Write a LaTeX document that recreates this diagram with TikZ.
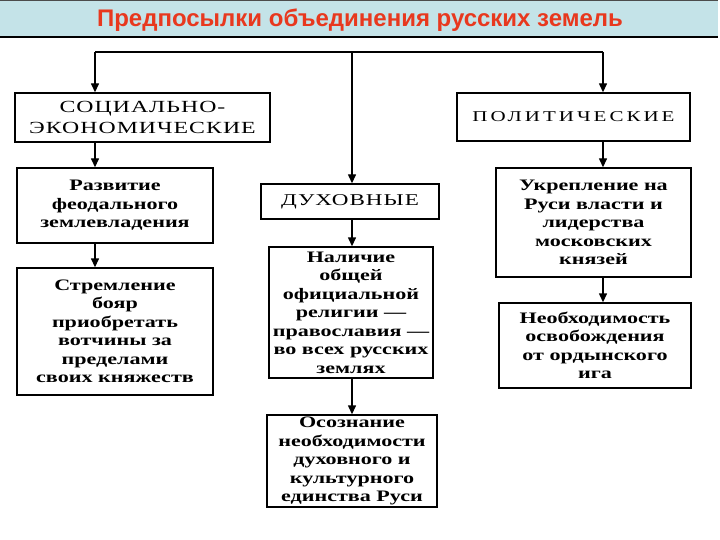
\documentclass[tikz,border=0pt]{standalone}
\usepackage{fontspec}
\setmainfont{Liberation Serif}
\newfontfamily\titlefont{Liberation Sans}
\newfontfamily\bodyf[FakeStretch=1.38]{Liberation Serif}
\newfontfamily\headf[FakeStretch=1.4,LetterSpace=6]{Liberation Serif}
\newfontfamily\headwf[FakeStretch=1.4,LetterSpace=20]{Liberation Serif}
\usetikzlibrary{arrows.meta}
\definecolor{titlebg}{HTML}{C4E3E8}
\definecolor{titlered}{HTML}{E8381E}
\begin{document}
\begin{tikzpicture}[x=1pt,y=-1pt,
  box/.style={draw=black, line width=1.4pt, align=center, inner sep=0pt,
    font=\bodyf\bfseries\fontsize{16}{18.5}\selectfont},
  head/.style={box, font=\headf\fontsize{17}{21}\selectfont},
  arr/.style={line width=1.4pt, -{Triangle[length=9pt,width=8pt]}}]
\useasboundingbox (0,0) rectangle (720,540);
% title bar
\fill[titlebg] (0,0) rectangle (718,37);
\draw[black!70, line width=0.6pt] (0,0.5) -- (718,0.5);
\draw[black, line width=1.4pt] (0,37) -- (718,37);
\node (title) at (360,20) {\titlefont\bfseries\fontsize{24}{28}\selectfont\color{titlered}Предпосылки объединения русских земель};
% boxes
\node[head, minimum width=255pt, minimum height=49pt] (soc) at (142.5,117.5) {СОЦИАЛЬНО-\\ЭКОНОМИЧЕСКИЕ};
\node[box, minimum width=196pt, minimum height=75pt] (razv) at (115,205.5) {Развитие\\феодального\\землевладения};
\node[box, minimum width=196pt, minimum height=127pt] (strem) at (115,331.5) {Стремление\\бояр\\приобретать\\вотчины за\\пределами\\своих княжеств};
\node[head, font=\headf\fontsize{16.5}{18}\selectfont, minimum width=178pt, minimum height=35pt] (duh) at (350,201.5) {ДУХОВНЫЕ};
\node[box, minimum width=164pt, minimum height=131pt] (nal) at (351,312.5) {Наличие\\общей\\официальной\\религии —\\православия —\\во всех русских\\землях};
\node[box, minimum width=170pt, minimum height=92pt] (osoz) at (352,461) {Осознание\\необходимости\\духовного и\\культурного\\единства Руси};
\node[head, font=\headwf\fontsize{15}{18}\selectfont, minimum width=233pt, minimum height=48pt] (pol) at (573.5,117) {ПОЛИТИЧЕСКИЕ};
\node[box, minimum width=195pt, minimum height=109pt] (ukr) at (593.5,222.5) {Укрепление на\\Руси власти и\\лидерства\\московских\\князей};
\node[box, minimum width=192pt, minimum height=85pt] (neob) at (595,345.5) {Необходимость\\освобождения\\от ордынского\\ига};
% connectors
\coordinate (top) at (352,52);
\coordinate (lc) at (95,52);
\coordinate (rc) at (603,52);
\draw[line width=1.4pt] (lc) -- (rc);
\draw[arr] (lc) -- (lc |- soc.north);
\draw[arr] (rc) -- (rc |- pol.north);
\draw[arr] (top) -- (top |- duh.north);
\draw[arr] (lc |- soc.south) -- (lc |- razv.north);
\draw[arr] (lc |- razv.south) -- (lc |- strem.north);
\draw[arr] (top |- duh.south) -- (top |- nal.north);
\draw[arr] (top |- nal.south) -- (top |- osoz.north);
\draw[arr] (rc |- pol.south) -- (rc |- ukr.north);
\draw[arr] (rc |- ukr.south) -- (rc |- neob.north);
\end{tikzpicture}
\end{document}
